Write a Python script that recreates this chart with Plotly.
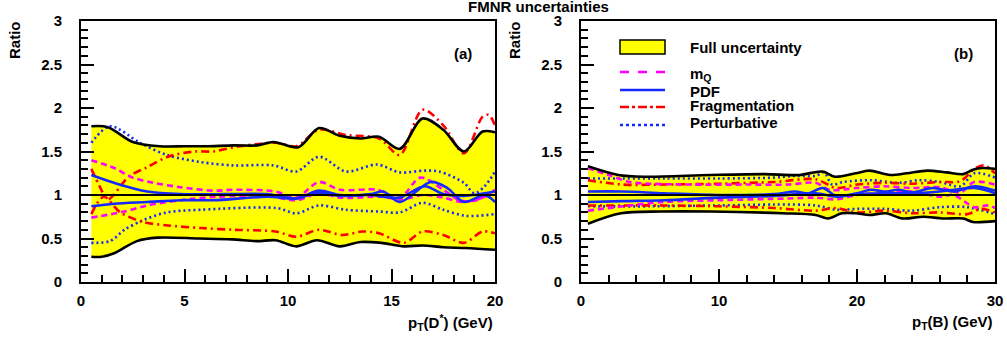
import plotly.graph_objects as go

# ---------------- data : panel (a) D* ----------------
band_hi_a_x = [0.5, 1.3, 2.5, 3.8, 5, 6, 7.4, 8.5, 9.3, 10.5, 11.5, 12.5, 13.5, 14.4, 15.4, 16.5, 17.5, 18.5, 19.4, 20]
band_hi_a_y = [1.79, 1.78, 1.61, 1.56, 1.56, 1.56, 1.57, 1.57, 1.61, 1.55, 1.77, 1.68, 1.65, 1.67, 1.53, 1.88, 1.75, 1.50, 1.73, 1.72]
band_lo_a_x = [0.5, 1.0, 1.6, 2.7, 3.7, 5.7, 7.3, 8.5, 9.4, 10.4, 11.4, 12.5, 13.5, 14.5, 15.6, 16.5, 17.5, 18.6, 20]
band_lo_a_y = [0.29, 0.29, 0.33, 0.47, 0.51, 0.50, 0.49, 0.47, 0.48, 0.41, 0.48, 0.41, 0.46, 0.45, 0.41, 0.42, 0.40, 0.39, 0.37]

mq_hi_a_x = [0.5, 1.6, 2.5, 3.5, 4.8, 6.4, 7.4, 9.4, 10.4, 11.5, 12.5, 14.3, 15.4, 16.4, 17.5, 18.3, 19.1, 20]
mq_hi_a_y = [1.40, 1.31, 1.20, 1.14, 1.09, 1.05, 1.06, 1.04, 0.97, 1.15, 1.06, 1.06, 0.97, 1.20, 1.06, 0.94, 0.94, 1.06]
mq_lo_a_x = [0.5, 2.1, 3.2, 4.8, 6.6, 9, 10.4, 11.5, 12.5, 14.5, 15.5, 16.5, 17.5, 18.5, 20]
mq_lo_a_y = [0.74, 0.81, 0.88, 0.94, 0.98, 0.99, 0.94, 1.02, 0.97, 0.98, 0.95, 1.00, 0.97, 0.92, 1.02]

pdf_hi_a_x = [0.5, 1.6, 3.2, 4.8, 7, 9, 10.4, 11.5, 12.5, 14, 14.6, 15.4, 16.9, 17.7, 18.5, 19.5, 20]
pdf_hi_a_y = [1.23, 1.14, 1.04, 1.01, 1.01, 1.01, 0.96, 1.05, 1.00, 1.01, 1.04, 0.92, 1.15, 1.08, 0.92, 1.00, 0.92]
pdf_lo_a_x = [0.5, 1.6, 3.2, 4.8, 6.4, 9, 10.4, 11.5, 12.5, 14, 14.6, 15.4, 16.6, 17.5, 18.5, 20]
pdf_lo_a_y = [0.87, 0.90, 0.92, 0.94, 0.94, 0.98, 0.96, 1.03, 0.99, 1.00, 0.98, 0.97, 1.10, 1.01, 0.99, 1.04]

frag_hi_a_x = [0.5, 0.9, 1.3, 2.3, 3.2, 4.2, 5.5, 6.4, 7.4, 9.4, 10.4, 11.5, 12.8, 14.4, 15.4, 16.5, 17.5, 18.5, 19.4, 19.7, 20]
frag_hi_a_y = [1.30, 1.10, 0.95, 1.21, 1.32, 1.44, 1.50, 1.50, 1.55, 1.60, 1.56, 1.75, 1.69, 1.65, 1.46, 1.98, 1.80, 1.48, 1.90, 1.92, 1.80]
frag_lo_a_x = [0.5, 1.1, 1.9, 3.0, 4.2, 5.8, 7.4, 9.4, 10.4, 11.5, 12.6, 13.6, 14.4, 15.6, 16.5, 17.5, 18.5, 19.4, 20]
frag_lo_a_y = [0.78, 0.98, 0.80, 0.69, 0.65, 0.62, 0.60, 0.58, 0.52, 0.60, 0.54, 0.58, 0.56, 0.45, 0.58, 0.54, 0.45, 0.58, 0.56]

pert_hi_a_x = [0.5, 1.4, 2.85, 4.15, 5.75, 7.35, 9.3, 10.4, 11.5, 12.8, 14.3, 15.4, 16.6, 17.3, 18.5, 19.0, 19.5, 20]
pert_hi_a_y = [1.60, 1.79, 1.60, 1.46, 1.38, 1.34, 1.34, 1.27, 1.44, 1.27, 1.35, 1.26, 1.28, 1.27, 1.14, 1.02, 1.10, 1.27]
pert_lo_a_x = [0.5, 1.4, 2.1, 3.0, 4.15, 5.75, 9.45, 10.4, 11.5, 12.8, 14.4, 15.4, 16.5, 17.5, 18.6, 20]
pert_lo_a_y = [0.45, 0.47, 0.60, 0.71, 0.80, 0.83, 0.85, 0.79, 0.88, 0.83, 0.81, 0.80, 0.91, 0.83, 0.76, 0.78]

# ---------------- data : panel (b) B ----------------
band_hi_b_x = [0.5, 2.7, 4.6, 9.4, 13.3, 15.8, 17.5, 18.4, 19.9, 20.9, 22.4, 23.6, 25.1, 26.5, 27.7, 28.4, 29.1, 30]
band_hi_b_y = [1.33, 1.23, 1.21, 1.23, 1.24, 1.23, 1.27, 1.21, 1.25, 1.28, 1.23, 1.25, 1.28, 1.26, 1.24, 1.29, 1.31, 1.30]
band_lo_b_x = [0.5, 2.9, 5.8, 9.4, 14.6, 17.0, 17.9, 18.9, 19.9, 20.9, 22.1, 23.3, 24.8, 26.2, 27.7, 28.4, 30]
band_lo_b_y = [0.67, 0.79, 0.81, 0.81, 0.79, 0.77, 0.73, 0.79, 0.79, 0.77, 0.79, 0.73, 0.75, 0.73, 0.73, 0.69, 0.70]

mq_hi_b_x = [0.5, 2, 3.5, 5, 8, 12, 15, 17, 18, 20, 22, 24, 26, 27.5, 28.5, 30]
mq_hi_b_y = [1.31, 1.23, 1.15, 1.13, 1.12, 1.12, 1.12, 1.14, 1.06, 1.08, 1.10, 1.08, 1.09, 1.03, 1.15, 1.12]
mq_lo_b_x = [0.5, 3, 6, 10, 15, 17, 18.5, 20, 22, 24, 26, 27, 28.5, 29.5, 30]
mq_lo_b_y = [0.82, 0.87, 0.92, 0.94, 0.96, 0.97, 0.95, 1.00, 1.02, 1.04, 0.98, 1.00, 0.86, 0.88, 0.85]

pdf_hi_b_x = [0.5, 3, 6, 10, 14, 15.5, 16.5, 17.5, 18.5, 20, 21, 22, 23, 24, 25.5, 27, 28.5, 30]
pdf_hi_b_y = [1.04, 1.04, 1.02, 1.00, 1.01, 1.04, 1.02, 1.08, 0.99, 1.02, 1.06, 1.04, 1.06, 1.03, 1.08, 1.04, 1.10, 1.05]
pdf_lo_b_x = [0.5, 3, 6, 10, 14, 17, 18.5, 20, 22, 24, 26, 28.5, 30]
pdf_lo_b_y = [0.92, 0.93, 0.94, 0.97, 0.99, 1.02, 0.98, 1.01, 1.02, 1.02, 1.04, 1.08, 1.02]

frag_hi_b_x = [0.5, 3, 6, 10, 14, 17, 18.5, 20, 22, 24, 26, 27.5, 28.5, 29.2, 30]
frag_hi_b_y = [1.17, 1.12, 1.12, 1.13, 1.15, 1.18, 1.08, 1.12, 1.14, 1.13, 1.15, 1.16, 1.30, 1.34, 1.25]
frag_lo_b_x = [0.5, 3, 6, 10, 14, 17, 18.5, 20, 22, 24, 26, 28, 29, 30]
frag_lo_b_y = [0.88, 0.88, 0.88, 0.87, 0.85, 0.82, 0.85, 0.80, 0.82, 0.79, 0.80, 0.78, 0.84, 0.80]

pert_hi_b_x = [0.5, 3, 6, 10, 14, 15.5, 17, 17.6, 18.2, 19, 21, 23, 24.5, 26, 27.5, 28.5, 30]
pert_hi_b_y = [1.19, 1.19, 1.19, 1.19, 1.20, 1.22, 1.22, 1.26, 1.12, 1.15, 1.17, 1.14, 1.17, 1.15, 1.10, 1.25, 1.20]
pert_lo_b_x = [0.5, 5, 10, 14, 17, 18.5, 20, 22, 24, 26, 28, 30]
pert_lo_b_y = [0.87, 0.87, 0.88, 0.89, 0.88, 0.83, 0.84, 0.84, 0.82, 0.86, 0.86, 0.78]

legend_labels = ["Full uncertainty", "m<sub>Q</sub>", "PDF", "Fragmentation", "Perturbative"]
panel_tags = ["(a)", "(b)"]
ytick_vals = [0, 0.5, 1, 1.5, 2, 2.5, 3]
ytick_text = ["0", "0.5", "1", "1.5", "2", "2.5", "3"]

# ---------------- styling ----------------
W, H = 1007, 345
FONT = "Liberation Sans, Arial, Helvetica, sans-serif"
FS = 15
YELLOW = "#ffff00"
MAG = "#ff00ff"
BLUE = "#1428ff"
RED = "#ff0000"
DASH_MQ = "6px,4px"
DASH_FR = "8px,4px,2px,4px"
DASH_PT = "2px,3px"
LW = 2.6

def px2paper_x(px):
    return px / W

def px2paper_y(py):
    return (H - py) / H

fig = go.Figure()

def add_panel(xa, ya, bhx, bhy, blx, bly, curves, xmax):
    fig.add_trace(go.Scatter(x=blx, y=bly, mode="lines", line=dict(width=0, shape="spline", smoothing=0.9),
                             xaxis=xa, yaxis=ya, showlegend=False, hoverinfo="skip"))
    fig.add_trace(go.Scatter(x=bhx, y=bhy, mode="lines", line=dict(width=0, shape="spline", smoothing=0.9),
                             fill="tonexty", fillcolor=YELLOW,
                             xaxis=xa, yaxis=ya, showlegend=False, hoverinfo="skip"))
    for (cx, cy, col, dash) in curves:
        fig.add_trace(go.Scatter(x=cx, y=cy, mode="lines",
                                 line=dict(color=col, width=LW, dash=dash, shape="spline", smoothing=0.9),
                                 xaxis=xa, yaxis=ya, showlegend=False, hoverinfo="skip"))
    fig.add_trace(go.Scatter(x=[0, xmax], y=[1, 1], mode="lines", line=dict(color="black", width=2),
                             xaxis=xa, yaxis=ya, showlegend=False, hoverinfo="skip"))
    for (ex, ey) in [(bhx, bhy), (blx, bly)]:
        fig.add_trace(go.Scatter(x=ex, y=ey, mode="lines",
                                 line=dict(color="black", width=2.6, shape="spline", smoothing=0.9),
                                 xaxis=xa, yaxis=ya, showlegend=False, hoverinfo="skip"))

add_panel("x", "y", band_hi_a_x, band_hi_a_y, band_lo_a_x, band_lo_a_y, [
    (pert_hi_a_x, pert_hi_a_y, BLUE, DASH_PT), (pert_lo_a_x, pert_lo_a_y, BLUE, DASH_PT),
    (frag_hi_a_x, frag_hi_a_y, RED, DASH_FR), (frag_lo_a_x, frag_lo_a_y, RED, DASH_FR),
    (mq_hi_a_x, mq_hi_a_y, MAG, DASH_MQ), (mq_lo_a_x, mq_lo_a_y, MAG, DASH_MQ),
    (pdf_hi_a_x, pdf_hi_a_y, BLUE, "solid"), (pdf_lo_a_x, pdf_lo_a_y, BLUE, "solid"),
], 20)

add_panel("x2", "y2", band_hi_b_x, band_hi_b_y, band_lo_b_x, band_lo_b_y, [
    (pert_hi_b_x, pert_hi_b_y, BLUE, DASH_PT), (pert_lo_b_x, pert_lo_b_y, BLUE, DASH_PT),
    (frag_hi_b_x, frag_hi_b_y, RED, DASH_FR), (frag_lo_b_x, frag_lo_b_y, RED, DASH_FR),
    (mq_hi_b_x, mq_hi_b_y, MAG, DASH_MQ), (mq_lo_b_x, mq_lo_b_y, MAG, DASH_MQ),
    (pdf_hi_b_x, pdf_hi_b_y, BLUE, "solid"), (pdf_lo_b_x, pdf_lo_b_y, BLUE, "solid"),
], 30)

tickfont = dict(family=FONT, size=FS, color="black", weight="bold")

def xaxis_cfg(dom, rng, dt, mdt, anchor):
    return dict(domain=dom, range=rng, dtick=dt, tick0=0, ticks="inside", ticklen=13, tickwidth=2,
                tickcolor="black", showline=True, linewidth=2, linecolor="black", mirror=True,
                showgrid=False, zeroline=False, tickfont=tickfont, anchor=anchor, automargin=False,
                ticklabelstandoff=4,
                minor=dict(ticks="inside", ticklen=7, tickwidth=2, tickcolor="black", dtick=mdt, tick0=0, showgrid=False))

def yaxis_cfg(dom, anchor):
    return dict(domain=dom, range=[0, 3], tickvals=ytick_vals, ticktext=ytick_text,
                ticks="inside", ticklen=13, tickwidth=2,
                tickcolor="black", showline=True, linewidth=2, linecolor="black", mirror=True,
                showgrid=False, zeroline=False, tickfont=tickfont, anchor=anchor, automargin=False,
                ticklabelstandoff=14,
                minor=dict(ticks="inside", ticklen=7, tickwidth=2, tickcolor="black", dtick=0.1, tick0=0, showgrid=False))

ydom = [px2paper_y(282), px2paper_y(21)]
fig.update_layout(
    width=W, height=H, margin=dict(l=0, r=0, t=0, b=0),
    paper_bgcolor="white", plot_bgcolor="white", showlegend=False,
    xaxis=xaxis_cfg([px2paper_x(81), px2paper_x(495)], [0, 20], 5, 1, "y"),
    yaxis=yaxis_cfg(ydom, "x"),
    xaxis2=xaxis_cfg([px2paper_x(581), px2paper_x(995)], [0, 30], 10, 2, "y2"),
    yaxis2=yaxis_cfg(ydom, "x2"),
)

ann = []
def txt(text, x, y, size=FS, xanchor="center", yanchor="middle", angle=0):
    ann.append(dict(text=text, x=x, y=y, xref="paper", yref="paper", showarrow=False, xanchor=xanchor,
                    yanchor=yanchor, textangle=angle, font=dict(family=FONT, size=size, color="black", weight="bold")))

txt("FMNR uncertainties", px2paper_x(538), px2paper_y(6), size=15)
txt("Ratio", px2paper_x(15), px2paper_y(40), angle=-90)
txt("Ratio", px2paper_x(515), px2paper_y(40), angle=-90)
txt("p<sub>T</sub>(D<sup>*</sup>) (GeV)", px2paper_x(495), px2paper_y(322), xanchor="right")
txt("p<sub>T</sub>(B) (GeV)", px2paper_x(995), px2paper_y(322), xanchor="right")
txt(panel_tags[0], px2paper_x(463), px2paper_y(53))
txt(panel_tags[1], px2paper_x(963), px2paper_y(53))

leg_text_x = px2paper_x(688)
leg_rows_y = [47.5, 74, 91, 106, 122]
for lab, ry in zip(legend_labels, leg_rows_y):
    txt(lab, leg_text_x, px2paper_y(ry), xanchor="left")
fig.update_layout(annotations=ann)

shapes = [dict(type="rect", xref="paper", yref="paper", x0=px2paper_x(620), x1=px2paper_x(665),
               y0=px2paper_y(54), y1=px2paper_y(40), fillcolor=YELLOW, line=dict(color="black", width=1.5))]
for ly, col, dash in [(72, MAG, "dash"), (90, BLUE, "solid"), (107, RED, "dashdot"), (125, BLUE, "dot")]:
    shapes.append(dict(type="line", xref="paper", yref="paper", x0=px2paper_x(620), x1=px2paper_x(665),
                       y0=px2paper_y(ly), y1=px2paper_y(ly), line=dict(color=col, width=LW, dash=dash)))
fig.update_layout(shapes=shapes)

fig.write_html("out.html", config={"displayModeBar": False},
               post_script="document.body.style.margin='0px';document.body.style.overflow='hidden';")
